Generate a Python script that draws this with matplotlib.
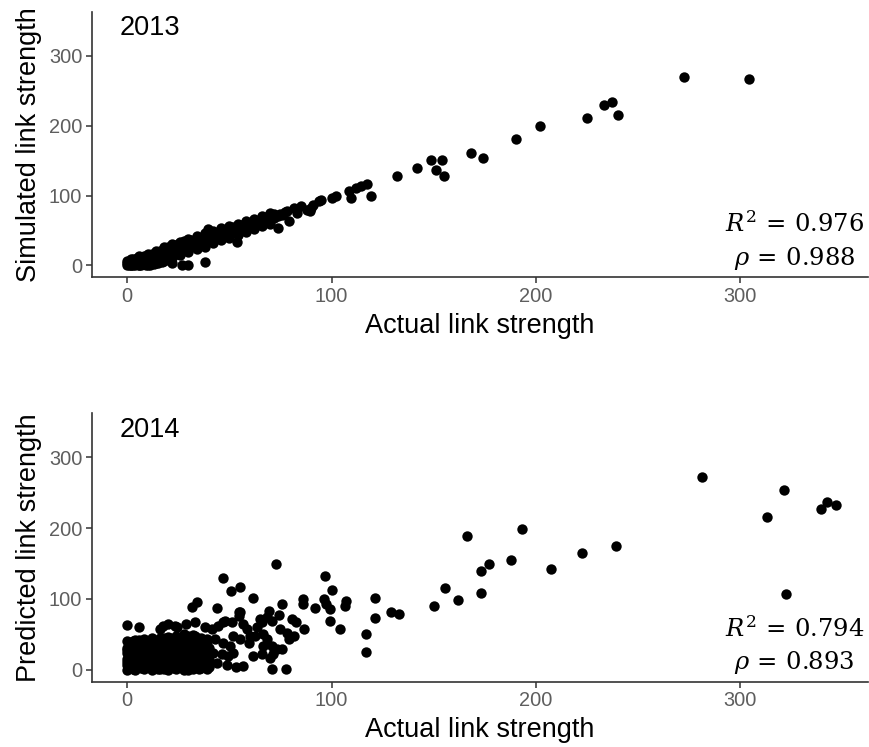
import matplotlib
matplotlib.use("Agg")
import matplotlib.pyplot as plt

# ---- data ----
# 2013: actual vs simulated link strength
act_2013 = [0, 0, 0, 1, 1, 2, 2, 2, 3, 3, 3, 4, 4, 4, 5, 5, 5, 6, 6, 6, 7, 7, 7, 8, 8, 8, 9, 9, 9,
            10, 10, 10, 11, 11, 11, 12, 12, 12, 13, 13, 14, 14, 14, 15, 15, 16, 16, 16, 17, 17, 18, 18, 18,
            19, 20, 20, 20, 21, 22, 22, 23, 23, 24, 24, 25, 25, 26, 26, 27, 28, 28, 28, 29, 30, 30, 31, 31,
            32, 32, 33, 34, 34, 35, 36, 36, 37, 38, 38, 39, 40, 40, 41, 42, 42, 43, 44, 44, 45, 46, 46, 47,
            48, 48, 49, 50, 50, 51, 52, 52, 53, 54, 55, 55, 56, 57, 58, 58, 59, 60, 61, 62, 62, 63, 64, 65,
            66, 67, 68, 68, 69, 70, 71, 72, 72, 74, 75, 76, 77,
            2, 6, 10, 14, 18, 22, 26, 30, 34, 38, 42, 46, 50, 54, 58, 62, 66, 70,
            2, 6, 10, 14, 18, 22, 26, 30, 34, 38, 42, 46, 50, 54, 58, 62, 66, 70,
            21.7, 26.6, 30, 38, 39.7, 53.7, 74, 79, 78, 81.5, 83, 85, 88, 89.7, 90, 91, 93.8, 95, 100, 102,
            108.5, 109.3, 111.8, 114.3, 117.5, 119.2, 132, 142, 148.6, 151, 153.9, 155.2, 168.3, 174.2,
            190.4, 202.2, 225.2, 233.3, 237.4, 240.4, 272.5, 304.4]
sim_2013 = [0, 3, 6, 1, 4, 0, 2, 7, 1, 5, 9, 0, 3, 8, 2, 6, 11, 0, 4, 9, 1, 6, 12, 2, 8, 14, 0, 5, 11,
            3, 9, 15, 1, 7, 13, 4, 10, 17, 2, 8, 6, 12, 19, 3, 10, 7, 14, 21, 5, 12, 9, 16, 23,
            11, 12, 19, 26, 15, 14, 22, 18, 27, 17, 24, 21, 30, 20, 27, 24, 22, 30, 35, 26, 25, 32, 29, 36,
            28, 35, 31, 30, 37, 33, 32, 40, 35, 34, 41, 37, 36, 43, 39, 38, 45, 41, 40, 47, 43, 42, 49, 45,
            44, 51, 47, 46, 53, 49, 48, 55, 51, 50, 53, 58, 52, 56, 54, 60, 57, 56, 60, 58, 63, 61, 60, 64,
            62, 66, 64, 69, 67, 66, 70, 68, 73, 71, 74, 72, 76,
            9, 13, 17, 21, 26, 30, 34, 38, 42, 46, 50, 53, 57, 60, 64, 67, 71, 75,
            0, 0, 1, 3, 6, 11, 15, 19, 23, 27, 32, 36, 40, 44, 48, 52, 56, 60,
            4, 1, 0, 5, 52, 33, 54, 63, 78, 82, 75, 85, 80, 78, 82, 87, 92, 94, 97, 99,
            106, 97, 111, 113, 116, 100, 128, 140, 151, 137, 151, 128, 161, 154,
            181, 199, 211, 230, 234, 215, 270, 266]

# 2014: actual vs predicted link strength
act_2014 = [0, 0, 0, 0, 0, 0, 2, 2, 2, 2, 2, 4, 4, 4, 4, 4, 4, 6, 6, 6, 6, 6, 8, 8, 8, 8, 8, 8,
            10, 10, 10, 10, 10, 12, 12, 12, 12, 12, 12, 14, 14, 14, 14, 14, 16, 16, 16, 16, 16, 16,
            18, 18, 18, 18, 18, 20, 20, 20, 20, 20, 20, 22, 22, 22, 22, 22, 24, 24, 24, 24, 24, 24,
            26, 26, 26, 26, 26, 28, 28, 28, 28, 28, 28, 30, 30, 30, 30, 30, 32, 32, 32, 32, 32, 32,
            34, 34, 34, 34, 34, 36, 36, 36, 36, 36, 38, 38, 38, 38, 40, 40, 40, 40,
            1, 1, 1, 1, 1, 3, 3, 3, 3, 3, 3, 5, 5, 5, 5, 5, 7, 7, 7, 7, 7, 9, 9, 9, 9, 9,
            11, 11, 11, 11, 11, 13, 13, 13, 13, 13, 15, 15, 15, 15, 15, 17, 17, 17, 17, 17,
            19, 19, 19, 19, 19, 21, 21, 21, 21, 21, 23, 23, 23, 23, 23, 25, 25, 25, 25, 25,
            27, 27, 27, 27, 27, 29, 29, 29, 29, 29, 31, 31, 31, 31, 31, 33, 33, 33, 33, 33,
            35, 35, 35, 35, 35, 37, 37, 37, 37, 39, 39, 39, 39,
            0, 0, 3, 3, 3, 6, 6, 6, 9, 9, 9, 12, 12, 12, 15, 15, 15, 18, 18, 18, 18,
            21, 21, 21, 24, 24, 24, 27, 27, 27, 30, 30, 30, 30, 33, 33, 33, 36, 36, 36, 39, 39, 39,
            73, 46.8, 50.9, 55, 61.8, 34, 31.5, 43.8, 55, 54.5, 69.2, 75.8, 74.5, 80.7, 82.8, 86.4,
            97, 100, 96.2, 97.5, 99.2, 92.1, 86, 86, 106.9, 106.4, 99.2, 104, 65, 68.4, 70.9, 75,
            78.2, 79, 81.5, 66, 63.5, 62.7, 66.7, 68.4, 66.7, 70.9, 73.3, 75.8, 71.6, 70, 66, 61.8,
            70.9, 77.9, 53.3, 56.9, 56.9, 58.6, 60.2, 59.4, 55.3, 52, 47.9, 51.2, 44.6, 41.4, 38,
            38.9, 43, 47, 50.4, 42.2, 46.3, 49.5, 39.7, 43.8, 52, 48.7, 121.1, 121.1, 116.9, 116.9,
            129, 133, 0, 5.8, 16.3, 17.6, 20, 23.3, 24.2, 29, 33, 47, 54.5,
            166.3, 193.2, 177.1, 173.2, 188, 207.3, 222.4, 239.2, 162, 173.2, 155.5, 150.3,
            281.3, 321.5, 313.3, 339.3, 342.6, 346.7, 322.3]
pred_2014 = [0, 7, 15, 23, 31, 40, 3, 11, 19, 27, 36, 0, 8, 16, 24, 33, 42, 4, 12, 20, 29, 38, 1, 9, 17, 26, 34, 43,
             5, 13, 22, 30, 39, 0, 8, 16, 25, 34, 44, 3, 11, 20, 28, 37, 1, 9, 18, 26, 35, 45,
             5, 14, 22, 31, 40, 0, 8, 17, 25, 34, 46, 4, 12, 21, 29, 38, 1, 9, 18, 27, 36, 48,
             5, 14, 23, 32, 41, 0, 9, 18, 26, 35, 50, 4, 13, 22, 31, 43, 1, 10, 19, 28, 38, 49,
             6, 15, 24, 33, 45, 2, 11, 20, 30, 40, 7, 17, 27, 36, 3, 13, 23, 31,
             4, 12, 20, 28, 36, 1, 9, 17, 25, 33, 40, 6, 14, 22, 30, 38, 2, 10, 18, 27, 35, 6, 14, 22, 31, 40,
             2, 10, 19, 27, 36, 6, 14, 23, 31, 41, 1, 10, 18, 27, 36, 5, 13, 22, 30, 39,
             2, 10, 19, 28, 37, 6, 14, 23, 32, 42, 2, 11, 20, 29, 40, 6, 15, 24, 33, 44,
             2, 11, 20, 29, 38, 6, 15, 24, 34, 45, 2, 10, 19, 28, 37, 6, 14, 23, 33, 42,
             1, 10, 19, 28, 36, 5, 14, 24, 33, 1, 9, 19, 28,
             11, 27, 5, 21, 37, 8, 24, 42, 3, 18, 34, 12, 29, 40, 6, 22, 40, 1, 18, 35, 45,
             10, 27, 44, 5, 22, 40, 15, 33, 46, 0, 18, 37, 48, 10, 28, 47, 6, 25, 44, 14, 33, 40,
             150, 129.5, 111, 116.7, 101, 96, 88, 86.7, 81, 76, 83.3, 93, 77, 71.4, 66.7, 58,
             132, 112, 100, 93, 85.7, 86.7, 100, 93, 97.6, 90.5, 69, 58, 71.4, 73.8, 69, 58,
             52.4, 42.9, 47.6, 66.7, 59.5, 47.6, 50, 42.9, 33, 33, 28.6, 28.6, 21.4, 16.7, 21.4, 19,
             1, 1, 3.3, 4.8, 64, 57, 47.6, 38, 42.9, 47.6, 69, 66.7, 62, 57, 59.5,
             43, 43, 38, 33, 24, 21.4, 19, 12, 9.5, 24, 7, 101.4, 72.9, 50, 25.2,
             81, 78.6, 63, 60, 58, 62, 64, 62, 59.5, 64, 67, 67, 81,
             189.5, 199, 150, 139, 154.8, 142.8, 164.3, 174.8, 99, 108.6, 115.2, 90.5,
             272.4, 253.8, 215.7, 226.7, 237.6, 233.3, 106.7]

TICKS = [0, 100, 200, 300]
LIMS = (-17.2, 362.5)

plt.rcParams["font.family"] = ["Liberation Sans", "DejaVu Sans"]
plt.rcParams["mathtext.fontset"] = "dejavuserif"

fig = plt.figure(figsize=(8.7, 7.47), dpi=100)
ax_top = fig.add_axes([92 / 870, 1 - 277.5 / 747, 776 / 870, 265.5 / 747])
ax_bot = fig.add_axes([92 / 870, 1 - 681.7 / 747, 776 / 870, 268.4 / 747])

panels = [
    (ax_top, act_2013, sim_2013, "2013", "Simulated link strength", "0.976", "0.988", 0.172),
    (ax_bot, act_2014, pred_2014, "2014", "Predicted link strength", "0.794", "0.893", 0.165),
]

for ax, xs, ys, year, ylab, r2, rho, r2_y in panels:
    ax.scatter(xs, ys, s=56, color="black", linewidths=0, zorder=3)
    ax.set_xlim(LIMS)
    ax.set_ylim(LIMS)
    ax.set_xticks(TICKS)
    ax.set_yticks(TICKS)
    for side in ["top", "right"]:
        ax.spines[side].set_visible(False)
    for side in ["left", "bottom"]:
        ax.spines[side].set_color("#333333")
        ax.spines[side].set_linewidth(1.2)
    ax.tick_params(length=4.5, width=1.1, color="#333333", labelcolor="#5e5e5e",
                   labelsize=14.4, pad=2.5)
    ax.set_xlabel("Actual link strength", fontsize=19.5, labelpad=5)
    ax.set_ylabel(ylab, fontsize=19.5, labelpad=5)
    ax.text(0.036, 0.913, year, transform=ax.transAxes, fontsize=19.5, va="baseline")
    ax.text(0.905, r2_y, rf"$R^2\,=\,{r2}$", transform=ax.transAxes,
            fontsize=17.5, ha="center", va="baseline")
    ax.text(0.905, 0.046, rf"$\rho\,=\,{rho}$", transform=ax.transAxes,
            fontsize=17.5, ha="center", va="baseline")

fig.savefig("out.png", dpi=100)
